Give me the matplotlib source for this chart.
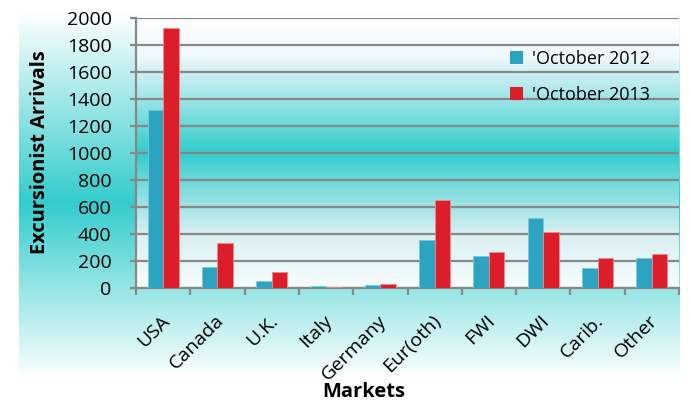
import matplotlib
matplotlib.use("Agg")
import matplotlib.pyplot as plt
import matplotlib.transforms as mtransforms
import numpy as np
from matplotlib.colors import LinearSegmentedColormap
from matplotlib.patches import Patch

categories = ["USA", "Canada", "U.K.", "Italy", "Germany", "Eur(oth)", "FWI", "DWI", "Carib.", "Other"]
oct_2012 = [1320, 155, 50, 12, 25, 355, 240, 520, 150, 220]
oct_2013 = [1925, 330, 115, 10, 30, 650, 270, 415, 225, 255]
series_labels = ["'October 2012", "'October 2013"]
y_ticks = [0, 200, 400, 600, 800, 1000, 1200, 1400, 1600, 1800, 2000]

plt.rcParams['font.family'] = ['Open Sans', 'DejaVu Sans']

W, H = 691, 404
fig = plt.figure(figsize=(W / 100, H / 100), dpi=100)

teal = (0.20, 0.80, 0.80)
white = (1.0, 1.0, 1.0)

# chart area background
bg = fig.add_axes([19 / W, 0 / H, (680 - 19) / W, 404 / H], zorder=0)
cm_bg = LinearSegmentedColormap.from_list("bg", [(0, white), (0.06, white), (0.5, teal), (0.97, white), (1, white)])
grad = np.linspace(0, 1, 256).reshape(-1, 1)
bg.imshow(grad, aspect='auto', cmap=cm_bg, extent=[0, 1, 0, 1], origin='lower')
bg.axis('off')

left, right, top, bottom = 136, 679, 18, 288
ax = fig.add_axes([left / W, 1 - bottom / H, (right - left) / W, (bottom - top) / H], zorder=1)
ax.set_facecolor('none')

cm_pa = LinearSegmentedColormap.from_list("pa", [(0, (0.97, 0.99, 0.99)), (0.2, (0.85, 0.94, 0.95)), (0.5, teal), (0.85, (0.93, 0.97, 0.98)), (1, white)])
n = len(categories)
ax.imshow(grad, aspect='auto', cmap=cm_pa, extent=[-0.5, n - 0.5, 0, 2000], origin='lower', zorder=0)

x = np.arange(n)
bw = 0.285
blue = '#2CA3C1'
red = '#DC1E2A'
ax.bar(x - bw / 2, oct_2012, bw, color=blue, edgecolor='#7cc7d8', linewidth=0.6, zorder=3)
ax.bar(x + bw / 2, oct_2013, bw, color=red, edgecolor='#ee8c92', linewidth=0.6, zorder=3)

ax.set_xlim(-0.5, n - 0.5)
ax.set_ylim(0, 2000)
ax.set_yticks(y_ticks)
ax.set_yticklabels([str(v) for v in y_ticks], fontsize=14)
ax.yaxis.grid(True, color='#888888', linewidth=1.6, zorder=1)
ax.set_axisbelow(True)

ax.set_xticks(x)
ax.set_xticklabels(categories, rotation=45, ha='right', va='top', rotation_mode='anchor', fontsize=14)
ax.tick_params(axis='x', which='major', length=0, pad=17)
offset = mtransforms.ScaledTranslation(-3 / 100, 0, fig.dpi_scale_trans)
for lab in ax.get_xticklabels():
    lab.set_transform(lab.get_transform() + offset)
ax.set_xticks(np.arange(n + 1) - 0.5, minor=True)
ax.tick_params(axis='x', which='minor', length=5, width=1.6, color='#888888')
ax.tick_params(axis='y', length=4.5, width=1.6, color='#888888', pad=13)

for s in ['top', 'right']:
    ax.spines[s].set_visible(False)
for s in ['left', 'bottom']:
    ax.spines[s].set_color('#888888')
    ax.spines[s].set_linewidth(1.6)

fig.text(40 / W, 1 - 152 / H, "Excursionist Arrivals", rotation=90, ha='center', va='center',
         fontsize=14.4, fontweight='bold')
fig.text(364 / W, 1 - 392 / H, "Markets", ha='center', va='center', fontsize=14.5, fontweight='bold')

handles = [Patch(facecolor=blue), Patch(facecolor=red)]
ax.legend(handles, series_labels, loc='upper left', bbox_to_anchor=(510 / W, 1 - 50 / H),
          bbox_transform=fig.transFigure, frameon=False, fontsize=13, handlelength=0.7,
          handleheight=0.7, handletextpad=0.5, labelspacing=1.0, borderpad=0, borderaxespad=0)

fig.savefig("out.png", dpi=100)
